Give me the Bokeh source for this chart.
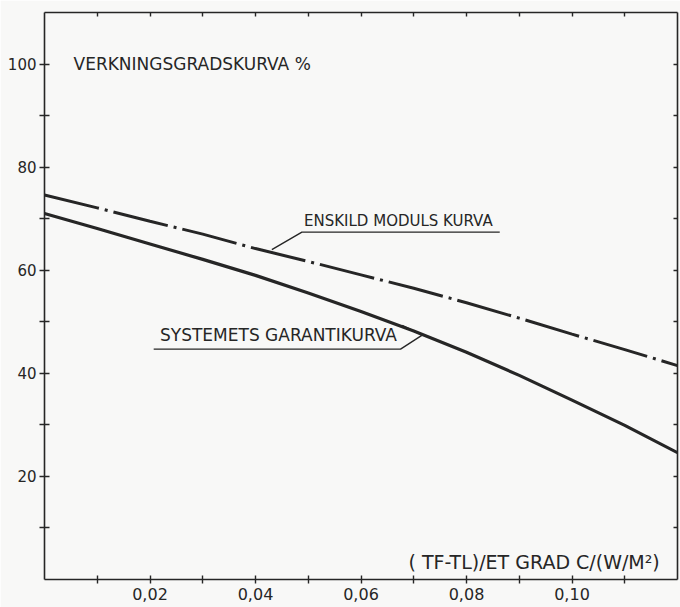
from bokeh.plotting import figure
from bokeh.models import LinearAxis, FixedTicker, CustomJSTickFormatter, Range1d
from bokeh.core.properties import value
from bokeh.embed import file_html
from bokeh.resources import INLINE

# ---- data ----
x_vals = [0.00, 0.01, 0.02, 0.03, 0.04, 0.05, 0.06, 0.07, 0.08, 0.09, 0.10, 0.11, 0.12]
modul_kurva = [74.6, 72.1, 69.5, 67.0, 64.2, 61.7, 59.1, 56.5, 53.7, 50.7, 47.6, 44.6, 41.5]
system_kurva = [71.0, 68.1, 65.1, 62.1, 59.0, 55.6, 52.0, 48.2, 44.1, 39.6, 34.8, 29.9, 24.6]

x_major = [0.02, 0.04, 0.06, 0.08, 0.10]
x_major_labels = ["0,02", "0,04", "0,06", "0,08", "0,10"]
x_minor = [0.01, 0.03, 0.05, 0.07, 0.09, 0.11]
x_all = [0.01, 0.02, 0.03, 0.04, 0.05, 0.06, 0.07, 0.08, 0.09, 0.10, 0.11]

y_major = [20, 40, 60, 80, 100]
y_major_labels = ["20", "40", "60", "80", "100"]
y_minor = [10, 30, 50, 70, 90]
y_all = [10, 20, 30, 40, 50, 60, 70, 80, 90, 100]

title_text = "VERKNINGSGRADSKURVA %"
modul_text = "ENSKILD MODULS KURVA"
system_text = "SYSTEMETS GARANTIKURVA"
x_title_text = "( TF-TL)/ET GRAD C/(W/M²)"

INK = "#262626"
BG = "#f8f8f7"
FONT = "DejaVu Sans"

p = figure(width=680, height=607, x_range=Range1d(0, 0.12), y_range=Range1d(0, 110),
           output_backend="svg", toolbar_location=None,
           x_axis_type=None, y_axis_type=None,
           min_border_left=44, min_border_right=3, min_border_top=12, min_border_bottom=28)
p.grid.visible = False
p.outline_line_color = None
p.background_fill_color = BG
p.border_fill_color = BG


def fmt(vals, labs):
    return CustomJSTickFormatter(args=dict(vals=vals, labs=labs), code="""
        for (let i = 0; i < vals.length; i++) {
            if (Math.abs(vals[i] - tick) < 1e-9) { return labs[i]; }
        }
        return '';
    """)


def style_axis(ax, tin, tout):
    ax.axis_line_color = INK
    ax.axis_line_width = 1.6
    ax.major_tick_line_color = INK
    ax.minor_tick_line_color = INK
    ax.major_tick_line_width = 1.4
    ax.minor_tick_line_width = 1.4
    ax.major_tick_in = tin
    ax.major_tick_out = tout
    ax.minor_tick_in = tin
    ax.minor_tick_out = tout
    ax.major_label_text_font = FONT
    ax.major_label_text_color = INK


# bottom axis
xb = LinearAxis(ticker=FixedTicker(ticks=x_major, minor_ticks=x_minor),
                formatter=fmt(x_major, x_major_labels))
style_axis(xb, 4, 4)
xb.major_label_standoff = 4
xb.major_label_text_font_size = "16px"
p.add_layout(xb, "below")

# left axis
yl = LinearAxis(ticker=FixedTicker(ticks=y_major, minor_ticks=y_minor),
                formatter=fmt(y_major, y_major_labels))
style_axis(yl, 5, 5)
yl.major_label_standoff = 3
yl.major_label_text_font_size = "15px"
p.add_layout(yl, "left")

# top axis (inward ticks only)
xt = LinearAxis(ticker=FixedTicker(ticks=x_all, minor_ticks=[]),
                formatter=CustomJSTickFormatter(code="return '';"))
style_axis(xt, 4, 0)
xt.major_label_standoff = 0
xt.major_label_text_font_size = "1px"
p.add_layout(xt, "above")

# right axis (inward ticks only)
yr = LinearAxis(ticker=FixedTicker(ticks=y_all, minor_ticks=[]),
                formatter=CustomJSTickFormatter(code="return '';"))
style_axis(yr, 4, 0)
yr.major_label_standoff = 0
yr.major_label_text_font_size = "1px"
p.add_layout(yr, "right")

# curves
p.line(x_vals, modul_kurva, line_color=INK, line_width=3, line_dash="56 6 3 6")
p.line(x_vals, system_kurva, line_color=INK, line_width=3.2)

# annotations: texts
p.text(x=[0.0055], y=[100], text=[title_text], text_font=value(FONT), text_font_size="17px",
       text_color=INK, text_align="left", text_baseline="middle")
p.text(x=[0.0492], y=[69.6], text=[modul_text], text_font=value(FONT), text_font_size="15px",
       text_color=INK, text_align="left", text_baseline="middle")
p.text(x=[0.0219], y=[47.5], text=[system_text], text_font=value(FONT), text_font_size="17px",
       text_color=INK, text_align="left", text_baseline="middle")
p.text(x=[0.0690], y=[3.3], text=[x_title_text], text_font=value(FONT), text_font_size="19px",
       text_color=INK, text_align="left", text_baseline="middle")

# annotations: underlines and leaders
modul_leader_x = [0.0431, 0.0488, 0.0863]
modul_leader_y = [64.0, 67.4, 67.4]
p.line(modul_leader_x, modul_leader_y, line_color=INK, line_width=1.4)

system_leader_x = [0.0207, 0.0675, 0.0716, 0.0678]
system_leader_y = [44.7, 44.7, 47.4, 49.3]
p.line(system_leader_x, system_leader_y, line_color=INK, line_width=1.4)

open("out.html", "w").write(file_html(p, INLINE))
